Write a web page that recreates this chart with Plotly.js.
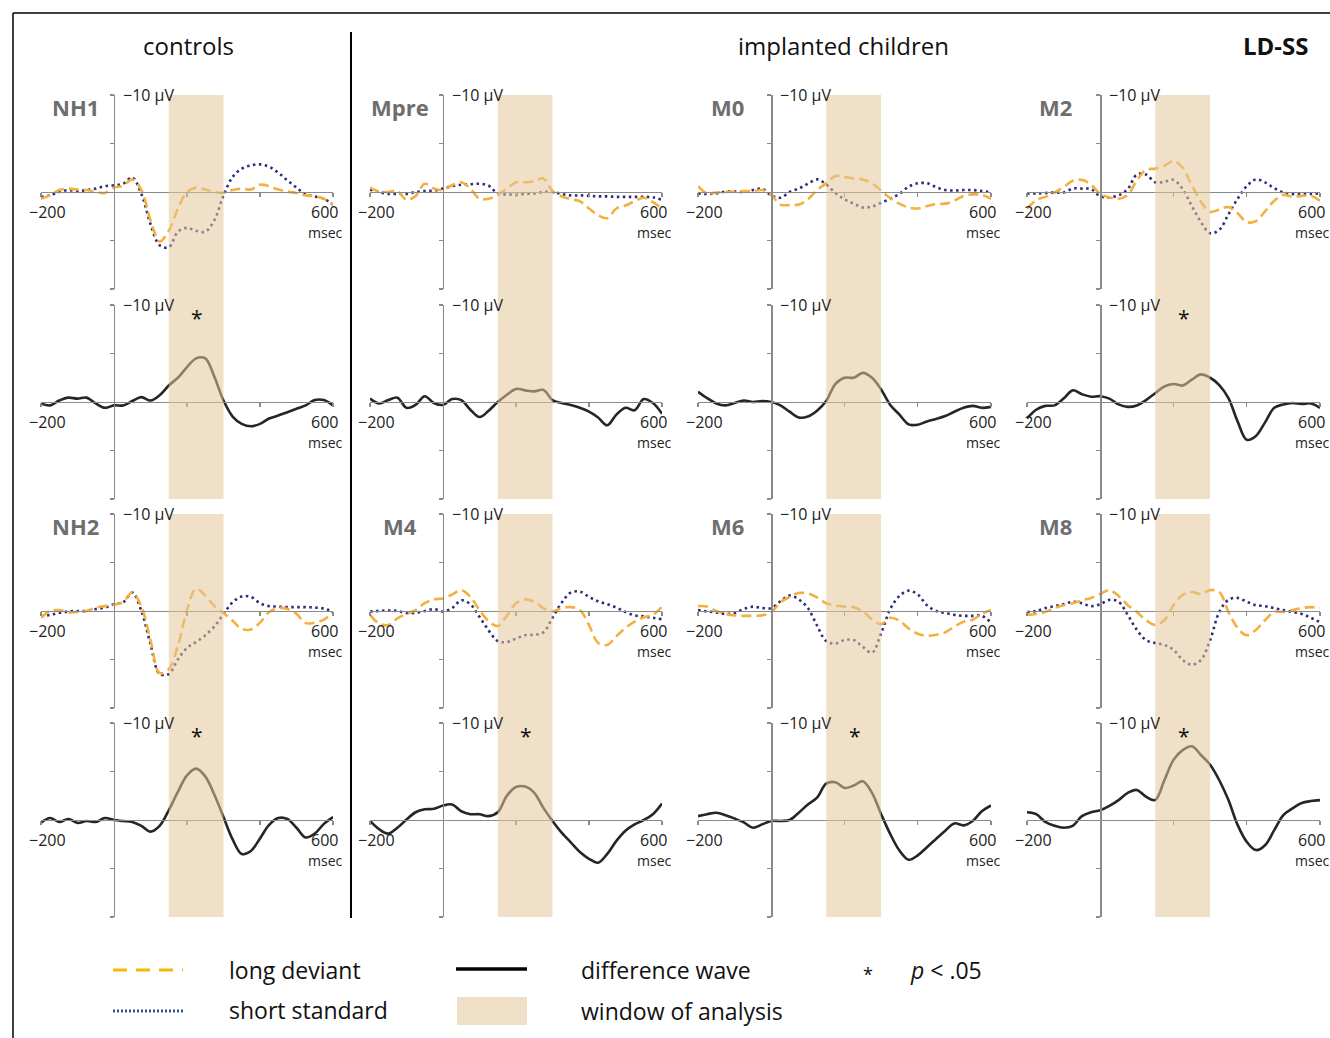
<!DOCTYPE html>
<html><head><meta charset="utf-8">
<script src="https://cdn.plot.ly/plotly-3.0.1.min.js"></script>
<style>body{margin:0;background:#fff}#chart{width:1330px;height:1038px}</style>
</head><body><div id="chart"></div>
<script>
// ---- data (µV, negative up) ----
const time = [-200,-175,-150,-125,-100,-75,-50,-25,0,25,50,75,100,125,150,175,200,225,250,275,300,325,350,375,400,425,450,475,500,525,550,575,600];
const panels = ['NH1','Mpre','M0','M2','NH2','M4','M6','M8'];
const significant = [true,false,false,true,true,true,true,true];

const NH1_long  = [0.7,0.35,-0.2,-0.35,-0.25,-0.2,0,0.1,-0.45,-0.65,-1.3,-0.2,2.9,5.1,4.0,1.7,0,-0.45,-0.25,0,0.1,-0.2,-0.35,-0.25,-0.75,-0.6,-0.25,-0.05,0.1,0.35,0.45,0.7,1.3];
const NH1_short = [0.5,0.35,0,-0.2,-0.1,-0.2,-0.35,-0.6,-0.7,-0.85,-1.5,0.2,3.3,5.5,5.7,4.1,3.7,4.0,4.1,2.9,0.35,-1.55,-2.4,-2.75,-2.85,-2.6,-2.0,-1.2,-0.45,0.25,0.45,0.7,1.3];
const NH1_diff  = [0.15,0.35,-0.15,-0.45,-0.35,-0.45,0.15,0.6,0.35,0.35,-0.1,-0.5,-0.15,-0.7,-1.7,-2.5,-3.6,-4.5,-4.5,-2.6,-0.15,1.5,2.25,2.5,2.25,1.7,1.4,1.05,0.7,0.35,-0.2,-0.2,0.35];

const Mpre_long  = [-0.45,-0.05,0,-0.1,0.8,0.4,-0.85,-0.35,-0.2,-0.7,-1.0,-0.35,0.7,0.7,0.3,-0.35,-1.0,-1.0,-1.1,-1.4,-0.1,0.45,0.75,0.95,1.7,2.4,2.7,1.7,1.4,0.95,0.6,1.05,1.7];
const Mpre_short = [-0.25,0,0.2,0.2,0.2,0,-0.1,-0.15,-0.35,-0.6,-0.75,-0.8,-0.85,-0.65,0.15,0.25,0.25,0.2,0.15,0,0,0.2,0.35,0.35,0.4,0.45,0.45,0.5,0.5,0.5,0.5,0.55,0.8];
const Mpre_diff  = [-0.35,0.15,-0.2,-0.45,0.6,0.3,-0.6,0.1,0.3,-0.3,-0.2,0.8,1.55,0.9,0,-0.75,-1.35,-1.2,-1.1,-1.25,-0.2,0.1,0.3,0.6,1.0,1.6,2.4,1.3,0.6,0.85,-0.3,0.1,1.2];

const M0_long  = [-0.6,0.15,0.05,0,-0.05,-0.1,-0.1,-0.2,0.3,1.3,1.35,1.3,0.75,-0.2,-0.9,-1.65,-1.55,-1.4,-1.3,-0.9,-0.15,0.65,1.2,1.6,1.7,1.45,1.25,1.2,0.9,0.4,0.25,0.3,0.7];
const M0_short = [0.15,0.2,0.15,-0.05,-0.05,0,-0.2,-0.35,0.35,0.6,0,-0.35,-0.85,-1.3,-0.8,0.1,0.75,1.2,1.6,1.5,1.1,0.7,0.2,-0.55,-0.9,-0.9,-0.5,-0.2,-0.15,-0.2,-0.2,-0.1,0];
const M0_diff  = [-1.05,-0.4,0.15,0.35,0.1,-0.15,0,-0.1,0,0.35,1.0,1.6,1.5,0.9,-0.1,-1.85,-2.5,-2.5,-3.0,-2.5,-1.3,0.3,1.3,2.3,2.35,2.0,1.75,1.45,1.0,0.6,0.4,0.6,0.5];

const M2_long  = [1.7,0.85,0.5,0.05,-0.5,-1.15,-1.25,-0.75,0.2,0.55,0.7,0.3,-1.2,-2.3,-2.4,-2.7,-3.2,-2.5,-0.7,1.0,2.05,1.8,1.55,2.2,3.1,3.0,2.0,0.9,0.3,0.5,0.4,0.4,0.9];
const M2_short = [0.15,0.15,0.1,0.05,0.05,-0.35,-0.35,-0.3,0.45,0.55,0.35,-0.3,-1.8,-1.8,-1.0,-1.05,-1.25,-0.3,1.45,3.1,4.25,3.9,2.3,0.7,-0.6,-1.3,-1.0,-0.4,0.05,0.2,0.25,0.2,0.15];
const M2_diff  = [1.7,0.8,0.4,0.35,-0.35,-1.2,-0.8,-0.55,-0.6,-0.35,0.25,0.5,0.35,-0.2,-0.9,-1.6,-1.85,-1.7,-2.3,-2.85,-2.5,-1.75,-0.4,2.0,3.9,3.5,2.1,0.6,0.25,0.1,0.2,0.15,0.6];

const NH2_long  = [0.7,0,-0.1,0.15,0.1,0,-0.35,-0.5,-0.65,-0.9,-1.9,-0.45,3.0,6.4,6.0,3.6,-0.1,-2.3,-1.6,-0.5,0.2,1.0,1.85,1.9,1.2,0.1,-0.3,-0.2,0.3,1.25,1.2,0.9,0.1];
const NH2_short = [0.55,0.4,0.2,0.05,0,0,-0.2,-0.35,-0.7,-0.9,-1.9,0,3.4,6.5,6.5,5.0,3.8,3.2,2.5,1.6,0.3,-0.9,-1.5,-1.45,-0.8,-0.5,-0.45,-0.4,-0.4,-0.4,-0.35,-0.25,0.05];
const NH2_diff  = [0.3,-0.2,0.2,-0.1,0.3,0.1,0.2,-0.2,0,0.1,0.2,0.6,1.2,0.6,-1.0,-2.9,-4.6,-5.3,-4.5,-2.6,-0.3,2.0,3.5,3.2,1.9,0.5,-0.2,-0.1,0.8,1.8,1.4,0.4,-0.3];

const M4_long  = [0.4,1.3,1.45,0.75,0.3,-0.1,-0.8,-1.2,-1.3,-1.7,-2.15,-1.45,-0.1,1.05,1.55,0.5,-0.8,-1.2,-0.95,-0.3,0.05,-0.3,-0.4,-0.1,1.45,3.3,3.5,2.6,1.75,1.1,0.65,0.4,-0.45];
const M4_short = [0.05,0,-0.05,0,0.2,0.2,0,-0.2,0.05,-0.3,-1.1,-0.7,0.6,2.0,3.1,3.2,2.85,2.5,2.45,2.2,0.7,-0.85,-1.9,-2.0,-1.45,-1.0,-0.7,-0.35,0.1,0.45,0.55,0.7,0.85];
const M4_diff  = [0.1,0.95,1.4,0.8,-0.05,-0.8,-1.1,-1.15,-1.5,-1.6,-0.9,-0.6,-0.6,-0.4,-0.8,-2.5,-3.4,-3.45,-2.8,-1.25,0.1,1.3,2.3,3.3,4.0,4.4,3.5,2.15,1.1,0.45,0,-0.6,-1.7];

const M6_long  = [-0.5,-0.45,0,0.3,0.45,0.5,0.5,0.45,0.15,-0.9,-1.45,-1.85,-1.8,-1.4,-0.8,-0.55,-0.45,-0.4,0.05,0.85,1.35,0.7,1.0,1.8,2.35,2.55,2.45,2.2,1.6,1.1,0.9,0.3,-0.1];
const M6_short = [-0.1,0.05,0.15,0.3,0.2,-0.2,-0.45,-0.3,-0.3,-1.0,-1.6,-1.2,-0.3,1.5,3.1,3.35,3.0,3.0,3.7,4.3,2.3,-0.2,-1.55,-2.1,-1.7,-0.6,0,0.2,0.4,0.5,0.5,0.5,1.2];
const M6_diff  = [-0.4,-0.6,-0.75,-0.5,-0.15,0.25,0.8,0.45,0.1,0.1,0,-0.75,-1.6,-2.3,-3.75,-3.9,-3.3,-3.55,-4.0,-2.8,-0.6,1.45,3.15,4.1,3.65,2.8,1.95,1.1,0.35,0.55,0.1,-0.9,-1.5];

const M8_long  = [0.4,0.3,0.1,-0.3,-0.6,-0.8,-1.1,-1.35,-1.75,-2.15,-1.55,-0.6,0.1,0.95,1.45,0.95,-0.6,-1.65,-1.95,-1.75,-2.15,-1.95,0.1,1.75,2.5,1.95,0.95,0.1,0.1,-0.1,-0.3,-0.4,-0.3];
const M8_short = [0.1,0,-0.3,-0.5,-0.7,-0.95,-0.8,-0.5,-0.7,-1.15,-0.95,0.4,1.95,3.0,3.3,3.5,4.0,5.05,5.55,5.05,3.0,0.1,-1.15,-1.35,-0.95,-0.6,-0.5,-0.3,-0.1,0.1,0.3,0.7,1.15];
const M8_diff  = [-0.8,-0.6,0.2,0.6,0.8,0.6,-0.4,-0.8,-1.0,-1.45,-2.05,-2.8,-3.1,-2.4,-2.05,-4.1,-6.2,-7.2,-7.6,-6.7,-5.7,-4.1,-2.05,0.5,2.25,3.1,2.6,1.05,-0.5,-1.2,-1.75,-1.95,-2.05];

const longSeries  = [NH1_long,Mpre_long,M0_long,M2_long,NH2_long,M4_long,M6_long,M8_long];
const shortSeries = [NH1_short,Mpre_short,M0_short,M2_short,NH2_short,M4_short,M6_short,M8_short];
const diffSeries  = [NH1_diff,Mpre_diff,M0_diff,M2_diff,NH2_diff,M4_diff,M6_diff,M8_diff];
const windowMs = [150,300];

// ---- layout geometry ----
const W=1330,H=1038;
const colPx=[[41,333],[370,662],[698,991],[1027,1320]];
const rowPx=[[95,289],[305,499],[514,708],[723,917]];
const labelOff=[34,30,29,28];
const AX='#8a8a8a';
const FONT='Open Sans, sans-serif';
const ORANGE='#f4b03c', NAVY='#2c2c7c', BLACK='#262626';

const traces=[], shapes=[], annotations=[];
const layout={width:W,height:H,margin:{l:0,r:0,t:0,b:0},paper_bgcolor:'#fff',plot_bgcolor:'rgba(0,0,0,0)',showlegend:false,font:{family:FONT}};
const sfx=n=>n===1?'':String(n);

function addAxes(n,c,r){
  const [xl,xr]=colPx[c], [yt,yb]=rowPx[r];
  const yd=[1-yb/H,1-yt/H];
  layout['xaxis'+sfx(n)]={domain:[xl/W,xr/W],range:[-200,600],anchor:'free',position:(yd[0]+yd[1])/2,
    showline:true,linecolor:AX,linewidth:1.4,ticks:'outside',ticklen:4,tickwidth:1.3,tickcolor:AX,
    tickvals:[-200,200,400,600],showticklabels:false,showgrid:false,zeroline:false,fixedrange:true};
  layout['yaxis'+sfx(n)]={domain:yd,range:[10,-10],anchor:'free',position:(xl+0.25*(xr-xl))/W,
    showline:true,linecolor:AX,linewidth:1.4,ticks:'outside',ticklen:4,tickwidth:1.3,tickcolor:AX,
    tickvals:[-10,-5,5,10],showticklabels:false,showgrid:false,zeroline:false,fixedrange:true};
  const xa='x'+sfx(n), ya='y'+sfx(n);
  const tf={family:FONT,size:16,color:'#222'};
  annotations.push({xref:xa,yref:ya,x:0,y:-10,text:'\u221210 \u00b5V',showarrow:false,xanchor:'left',yanchor:'middle',xshift:7,font:tf});
  annotations.push({xref:xa,yref:ya,x:-200,y:0,text:'\u2212200',showarrow:false,xanchor:'center',yanchor:'middle',xshift:6,yshift:-20,font:{family:FONT,size:16,color:'#222'}});
  annotations.push({xref:xa,yref:ya,x:600,y:0,text:'600',showarrow:false,xanchor:'center',yanchor:'middle',xshift:-9,yshift:-20,font:{family:FONT,size:16,color:'#222'}});
  annotations.push({xref:xa,yref:ya,x:600,y:0,text:'msec',showarrow:false,xanchor:'right',yanchor:'middle',xshift:11,yshift:-40,font:{family:FONT,size:14,color:'#222'}});
  return [xa,ya];
}

panels.forEach((name,p)=>{
  const c=p%4, g=Math.floor(p/4);
  const rE=g*2, rD=g*2+1;
  const nE=2*p+1, nD=2*p+2;
  const [xE,yE]=addAxes(nE,c,rE);
  const [xD,yD]=addAxes(nD,c,rD);
  traces.push({type:'scatter',mode:'lines',x:time,y:shortSeries[p],xaxis:xE,yaxis:yE,name:'short standard',
    line:{color:NAVY,width:2.6,dash:'2.5px,3.5px',shape:'spline',smoothing:1}});
  traces.push({type:'scatter',mode:'lines',x:time,y:longSeries[p],xaxis:xE,yaxis:yE,name:'long deviant',
    line:{color:ORANGE,width:2.6,dash:'10px,5px',shape:'spline',smoothing:1}});
  traces.push({type:'scatter',mode:'lines',x:time,y:diffSeries[p],xaxis:xD,yaxis:yD,name:'difference wave',
    line:{color:BLACK,width:2.6,shape:'spline',smoothing:1}});
  shapes.push({type:'rect',xref:xE,yref:'paper',x0:windowMs[0],x1:windowMs[1],
    y0:1-rowPx[rD][1]/H,y1:1-rowPx[rE][0]/H,fillcolor:'rgb(228,199,155)',opacity:0.55,line:{width:0},layer:'above'});
  annotations.push({xref:'paper',yref:'paper',x:(colPx[c][0]+labelOff[c])/W,y:1-(rowPx[rE][0]+12)/H,text:'<b>'+name+'</b>',
    showarrow:false,xanchor:'center',yanchor:'middle',font:{family:FONT,size:22,color:'#6e6e6e'}});
  if(significant[p]){
    annotations.push({xref:xD,yref:yD,x:228,y:-8.7,text:'*',showarrow:false,xanchor:'center',yanchor:'middle',font:{family:FONT,size:21,color:'#111'}});
  }
});

// headers
const P=(x,y)=>({x:x/W,y:1-y/H});
annotations.push(Object.assign(P(188,46),{xref:'paper',yref:'paper',text:'controls',showarrow:false,xanchor:'center',yanchor:'middle',font:{family:FONT,size:24,color:'#111'}}));
annotations.push(Object.assign(P(843,46),{xref:'paper',yref:'paper',text:'implanted children',showarrow:false,xanchor:'center',yanchor:'middle',font:{family:FONT,size:24,color:'#111'}}));
annotations.push(Object.assign(P(1275,46),{xref:'paper',yref:'paper',text:'<b>LD-SS</b>',showarrow:false,xanchor:'center',yanchor:'middle',font:{family:FONT,size:24,color:'#111'}}));

// frame and divider
const L=(x0,y0,x1,y1,col,w,dash)=>({type:'line',xref:'paper',yref:'paper',x0:x0/W,y0:1-y0/H,x1:x1/W,y1:1-y1/H,line:{color:col,width:w,dash:dash||'solid'}});
shapes.push(L(13,13,1330,13,'#000',1.5));
shapes.push(L(13,13,13,1038,'#000',1.5));
shapes.push(L(351,32,351,918,'#000',2));

// legend
shapes.push(L(113,970,183,970,'#f5b800',3,'14px,9px'));
shapes.push(L(113,1011,183,1011,'#2f5590',3,'2px,2px'));
shapes.push(L(456,969,527,969,'#000',3.5));
shapes.push({type:'rect',xref:'paper',yref:'paper',x0:457/W,x1:527/W,y0:1-1025/H,y1:1-997/H,fillcolor:'#efdfc6',line:{width:0}});
const legT=(x,y,t)=>annotations.push(Object.assign(P(x,y),{xref:'paper',yref:'paper',text:t,showarrow:false,xanchor:'left',yanchor:'middle',font:{family:FONT,size:23,color:'#111'}}));
legT(227,970,'long deviant');
legT(227,1010,'short standard');
legT(579,970,'difference wave');
legT(579,1011,'window of analysis');
annotations.push(Object.assign(P(868,974),{xref:'paper',yref:'paper',text:'*',showarrow:false,xanchor:'center',yanchor:'middle',font:{family:FONT,size:18,color:'#111'}}));
legT(908,970,'<i>p</i> < .05');

layout.shapes=shapes;
layout.annotations=annotations;
Plotly.newPlot('chart',traces,layout,{staticPlot:true,displayModeBar:false});
</script>
</body></html>
